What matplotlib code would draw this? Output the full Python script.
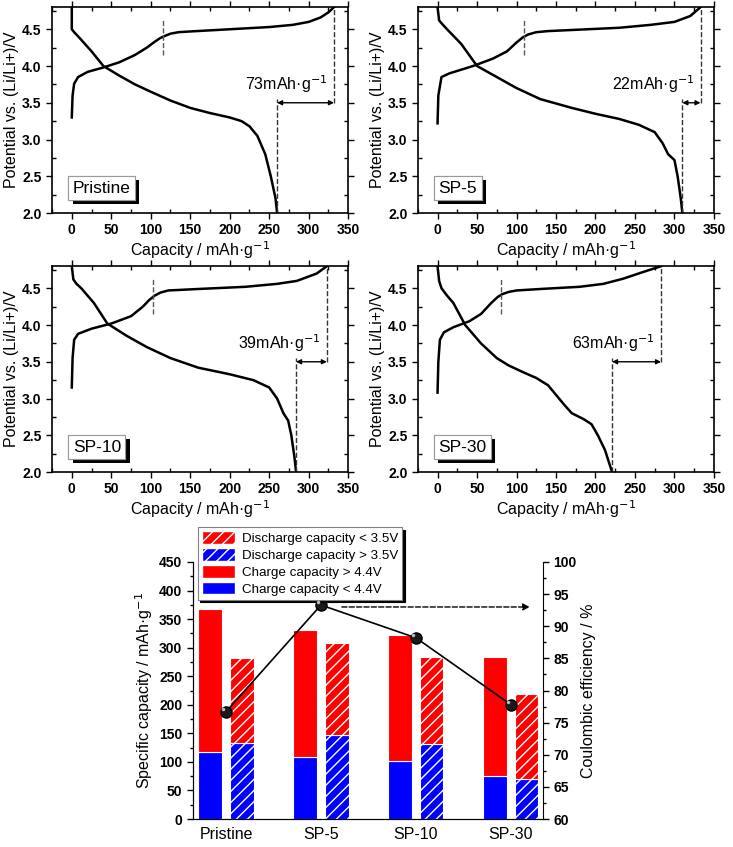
import matplotlib
matplotlib.use("Agg")
import matplotlib.pyplot as plt
import matplotlib.patheffects as pe
from matplotlib.patches import Patch
from matplotlib.ticker import MultipleLocator
import numpy as np

plt.rcParams['font.family'] = ['Liberation Sans', 'DejaVu Sans']
plt.rcParams['hatch.linewidth'] = 1.0
plt.rcParams['hatch.color'] = 'white'

# ---- charge / discharge curves (capacity mAh/g, potential V) ----
samples = ["Pristine", "SP-5", "SP-10", "SP-30"]

pr_ch_cap = [0, 1, 3, 8, 20, 40, 60, 80, 95, 105, 112, 118, 125, 135, 150, 200, 250, 280, 300, 315, 325, 332]
pr_ch_v = [3.30, 3.60, 3.76, 3.85, 3.92, 3.98, 4.05, 4.15, 4.25, 4.33, 4.38, 4.41, 4.44, 4.46, 4.47, 4.50, 4.53, 4.56, 4.60, 4.66, 4.73, 4.80]
pr_dis_cap = [0, 0, 3, 10, 25, 40, 60, 80, 100, 125, 150, 175, 200, 215, 225, 235, 245, 252, 258, 260]
pr_dis_v = [4.80, 4.50, 4.46, 4.38, 4.20, 4.00, 3.87, 3.75, 3.65, 3.53, 3.43, 3.36, 3.30, 3.25, 3.18, 3.05, 2.80, 2.50, 2.20, 2.00]

s5_ch_cap = [0, 1, 5, 15, 45, 70, 88, 100, 108, 115, 125, 140, 170, 230, 270, 300, 320, 333]
s5_ch_v = [3.22, 3.60, 3.85, 3.90, 4.00, 4.10, 4.20, 4.32, 4.39, 4.43, 4.46, 4.475, 4.49, 4.52, 4.56, 4.60, 4.68, 4.80]
s5_dis_cap = [0, 2, 6, 12, 30, 50, 75, 100, 130, 170, 200, 230, 255, 275, 285, 292, 300, 304, 308, 310]
s5_dis_v = [4.80, 4.62, 4.57, 4.50, 4.30, 4.00, 3.85, 3.70, 3.55, 3.43, 3.35, 3.28, 3.20, 3.10, 2.95, 2.80, 2.72, 2.50, 2.20, 2.00]

s10_ch_cap = [0, 1, 3, 8, 25, 50, 75, 90, 98, 105, 112, 122, 160, 220, 260, 285, 310, 323]
s10_ch_v = [3.15, 3.55, 3.80, 3.88, 3.95, 4.02, 4.12, 4.25, 4.34, 4.40, 4.44, 4.47, 4.49, 4.52, 4.56, 4.60, 4.70, 4.80]
s10_dis_cap = [0, 2, 6, 12, 28, 45, 70, 95, 125, 160, 200, 230, 250, 260, 268, 274, 278, 282, 284]
s10_dis_v = [4.80, 4.62, 4.56, 4.50, 4.30, 4.02, 3.85, 3.70, 3.55, 3.42, 3.33, 3.25, 3.15, 3.00, 2.80, 2.70, 2.50, 2.20, 2.00]

s30_ch_cap = [0, 1, 3, 8, 20, 40, 55, 68, 76, 82, 90, 100, 130, 180, 210, 235, 260, 283]
s30_ch_v = [3.08, 3.50, 3.80, 3.90, 3.97, 4.05, 4.15, 4.30, 4.38, 4.42, 4.45, 4.47, 4.49, 4.52, 4.56, 4.63, 4.72, 4.80]
s30_dis_cap = [0, 2, 5, 12, 20, 35, 55, 75, 90, 110, 125, 140, 150, 160, 170, 185, 195, 203, 212, 218, 221]
s30_dis_v = [4.80, 4.60, 4.50, 4.40, 4.30, 4.00, 3.75, 3.55, 3.45, 3.35, 3.28, 3.18, 3.05, 2.92, 2.80, 2.72, 2.65, 2.50, 2.30, 2.10, 2.00]

curves = [
    (pr_ch_cap, pr_ch_v, pr_dis_cap, pr_dis_v),
    (s5_ch_cap, s5_ch_v, s5_dis_cap, s5_dis_v),
    (s10_ch_cap, s10_ch_v, s10_dis_cap, s10_dis_v),
    (s30_ch_cap, s30_ch_v, s30_dis_cap, s30_dis_v),
]
cap_44 = [115, 110, 103, 80]          # capacity where charge reaches 4.4 V
gap_text = ["73mAh·g$^{-1}$", "22mAh·g$^{-1}$", "39mAh·g$^{-1}$", "63mAh·g$^{-1}$"]

cap_ticks = [0, 50, 100, 150, 200, 250, 300, 350]
volt_ticks = [2.0, 2.5, 3.0, 3.5, 4.0, 4.5]

# ---- bar chart ----
charge_total = [368, 331, 323, 283]
charge_low = [118, 108, 101, 75]      # < 4.4 V
dis_total = [282, 308, 284, 219]
dis_high = [134, 148, 132, 70]        # > 3.5 V
coulombic = [76.7, 93.3, 88.2, 77.8]
spec_ticks = [0, 50, 100, 150, 200, 250, 300, 350, 400, 450]
ce_ticks = [60, 65, 70, 75, 80, 85, 90, 95, 100]

fig = plt.figure(figsize=(7.33, 8.47), dpi=100)

panel_pos = [
    [0.071, 0.7485, 0.404, 0.243],
    [0.570, 0.7485, 0.404, 0.243],
    [0.071, 0.4427, 0.404, 0.243],
    [0.570, 0.4427, 0.404, 0.243],
]

for i, name in enumerate(samples):
    ax = fig.add_axes(panel_pos[i])
    ch_c, ch_v, dc_c, dc_v = curves[i]
    ax.plot(ch_c, ch_v, color='black', lw=1.8, solid_joinstyle='round')
    ax.plot(dc_c, dc_v, color='black', lw=1.8, solid_joinstyle='round')
    ax.set_xlim(-25, 350)
    ax.set_ylim(2.0, 4.8)
    ax.set_xticks(cap_ticks, [str(v) for v in cap_ticks], fontweight='bold', fontsize=10)
    ax.set_yticks(volt_ticks, [f"{v:.1f}" for v in volt_ticks], fontweight='bold', fontsize=10)
    ax.xaxis.set_minor_locator(MultipleLocator(25))
    ax.yaxis.set_minor_locator(MultipleLocator(0.25))
    ax.tick_params(which='major', direction='out', length=4, width=1, top=True, right=True)
    ax.tick_params(which='minor', direction='in', length=3, width=1, top=True, right=True)
    ax.set_xlim(-25, 350)
    ax.set_ylim(2.0, 4.8)
    for sp in ax.spines.values():
        sp.set_linewidth(1.2)
    ax.set_xlabel("Capacity / mAh·g$^{-1}$", fontsize=11.5, labelpad=1)
    ax.set_ylabel("Potential vs. (Li/Li+)/V", fontsize=11.5, labelpad=2)

    c_end = ch_c[-1]
    d_end = dc_c[-1]
    ax.plot([cap_44[i], cap_44[i]], [4.15, 4.62], ls='--', color='0.35', lw=1)
    ax.plot([c_end, c_end], [3.5, 4.8], ls='--', color='0.2', lw=1)
    ax.plot([d_end, d_end], [2.0, 3.55], ls='--', color='0.2', lw=1)
    ax.annotate('', xy=(d_end, 3.5), xytext=(c_end, 3.5),
                arrowprops=dict(arrowstyle='<|-|>', color='black', lw=1,
                                mutation_scale=7, shrinkA=0, shrinkB=0))
    ax.text(c_end - 8, 3.6, gap_text[i], ha='right', va='bottom', fontsize=11.5)

    t = ax.text(0.07, 0.085, name, transform=ax.transAxes, fontsize=12.5,
                ha='left', va='bottom',
                bbox=dict(boxstyle='square,pad=0.25', fc='white', ec='0.6', lw=0.8))
    t.get_bbox_patch().set_path_effects(
        [pe.withSimplePatchShadow(offset=(3, -3), shadow_rgbFace='black', alpha=1.0), pe.Normal()])

# ---- bottom bar chart ----
axb = fig.add_axes([0.263, 0.033, 0.478, 0.3035])
x = np.arange(len(samples))
w = 0.25
off = 0.165
red = '#ff0000'
blue = '#0000ff'
charge_high = [t - l for t, l in zip(charge_total, charge_low)]
dis_low = [t - h for t, h in zip(dis_total, dis_high)]

axb.bar(x - off, charge_low, w, color=blue, edgecolor='white', lw=0.8)
axb.bar(x - off, charge_high, w, bottom=charge_low, color=red, edgecolor='white', lw=0.8)
axb.bar(x + off, dis_high, w, color=blue, edgecolor='white', lw=0.8, hatch='///')
axb.bar(x + off, dis_low, w, bottom=dis_high, color=red, edgecolor='white', lw=0.8, hatch='///')

axb.set_xlim(-0.35, 3.34)
axb.set_ylim(0, 450)
axb.set_xticks(x)
axb.set_xticklabels(samples, fontsize=11.5)
axb.tick_params(axis='x', length=0, pad=6)
axb.set_yticks(spec_ticks, [str(v) for v in spec_ticks], fontweight='bold', fontsize=10)
axb.yaxis.set_minor_locator(MultipleLocator(25))
axb.tick_params(axis='y', which='major', direction='out', length=4, width=1)
axb.tick_params(axis='y', which='minor', direction='out', length=2.5, width=1)
axb.set_ylim(0, 450)
axb.spines['top'].set_visible(False)
axb.spines['right'].set_visible(False)
axb.set_ylabel("Specific capacity / mAh·g$^{-1}$", fontsize=11.5, labelpad=3)

ax2 = axb.twinx()
ax2.plot(x, coulombic, color='black', lw=1.2, marker='o', ms=8,
         mfc='#1a1a1a', mec='black', zorder=5)
ax2.plot(x - 0.03, np.array(coulombic) + 0.4, ls='none', marker='o', ms=2.5,
         mfc='#bbbbbb', mec='none', zorder=6)
ax2.annotate('', xy=(3.2, 93), xytext=(1.22, 93),
             arrowprops=dict(arrowstyle='-|>', color='black', lw=1, ls='--',
                             mutation_scale=10, shrinkA=0, shrinkB=0))
ax2.set_yticks(ce_ticks, [str(v) for v in ce_ticks], fontweight='bold', fontsize=10)
ax2.yaxis.set_minor_locator(MultipleLocator(2.5))
ax2.tick_params(axis='y', which='major', direction='out', length=4, width=1)
ax2.tick_params(axis='y', which='minor', direction='out', length=2.5, width=1)
ax2.set_ylim(60, 100)
ax2.spines['top'].set_visible(False)
ax2.set_ylabel("Coulombic efficiency / %", fontsize=11.5, labelpad=3)

handles = [
    Patch(facecolor=red, edgecolor='white', hatch='///', label='Discharge capacity < 3.5V'),
    Patch(facecolor=blue, edgecolor='white', hatch='///', label='Discharge capacity > 3.5V'),
    Patch(facecolor=red, edgecolor='white', label='Charge capacity > 4.4V'),
    Patch(facecolor=blue, edgecolor='white', label='Charge capacity < 4.4V'),
]
leg = ax2.legend(handles=handles, loc='upper left', bbox_to_anchor=(0.014, 1.136),
                 borderaxespad=0, fontsize=9.6, labelspacing=0.22, handlelength=2.5,
                 handleheight=1.1, handletextpad=0.5, borderpad=0.3,
                 fancybox=False, framealpha=1, edgecolor='0.5',
                 shadow={'color': 'black', 'alpha': 1})
leg.get_frame().set_linewidth(0.8)

fig.savefig("out.png", dpi=100)
